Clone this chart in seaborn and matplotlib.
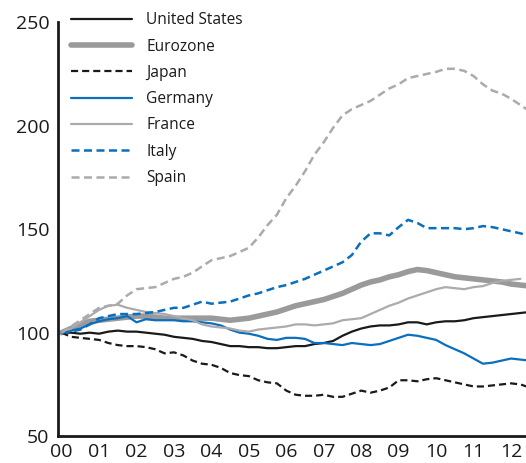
import numpy as np
import pandas as pd
import matplotlib
matplotlib.use("Agg")
import matplotlib.pyplot as plt
import seaborn as sns
from matplotlib.lines import Line2D

# quarterly index, 2000 = 100
quarters = np.arange(0, 12.51, 0.25)

united_states = [100, 100, 99.5, 100, 99.5, 100.5, 101, 100.5, 100.5, 100, 99.5, 99, 98, 97.5, 97, 96,
                 95.5, 94.5, 93.5, 93.5, 93, 93, 92.5, 92.5, 93, 93.5, 93.5, 94.5, 95, 96, 98.5, 100.5,
                 102, 103, 103.5, 103.5, 104, 105, 105, 104, 105, 105.5, 105.5, 106, 107, 107.5, 108,
                 108.5, 109, 109.5, 110]
eurozone = [100, 102, 104, 105.5, 106, 106.5, 107, 107.5, 108, 108, 107.5, 107, 107, 107, 107, 107,
            107, 106.5, 106, 106.5, 107, 108, 109, 110, 111.5, 113, 114, 115, 116, 117.5, 119, 121,
            123, 124.5, 125.5, 127, 128, 129.5, 130.5, 130, 129, 128, 127, 126.5, 126, 125.5, 125,
            124.5, 123.5, 123, 122.5]
japan = [100, 98, 97.5, 97, 96.5, 95, 94, 93.5, 93.5, 93, 92, 90, 90.5, 89, 86.5, 85,
         84.5, 83, 80.5, 79.5, 79, 77, 76, 75.5, 72, 70, 69.5, 69.5, 70, 69, 69, 70.5,
         72, 71, 72, 73.5, 77, 77, 76.5, 77.5, 78, 77, 76, 75, 74, 74, 74.5, 75, 75.5, 75, 73.5]
germany = [100, 101, 102, 104, 105.5, 106.5, 107, 108, 105, 106.5, 106, 106, 106, 105.5, 105.5, 105,
           104.5, 103.5, 101.5, 100, 99.5, 98.5, 97, 96.5, 97.5, 97.5, 97, 95, 95, 94.5, 94, 95,
           94.5, 94, 94.5, 96, 97.5, 99, 98.5, 97.5, 96.5, 94, 92, 90, 87.5, 85, 85.5, 86.5,
           87.5, 87, 86.5]
france = [100, 102, 105, 108, 111, 113, 113.5, 112, 111, 110, 109.5, 109, 108, 107, 106, 104,
          103, 102.5, 102, 101, 100.5, 101.5, 102, 102.5, 103, 104, 104, 103.5, 104, 104.5, 106, 106.5,
          107, 109, 111, 113, 114.5, 116.5, 118, 119.5, 121, 122, 121.5, 121, 122, 122.5, 124,
          125, 125.5, 126, np.nan]
italy = [100, 100.5, 101.5, 104, 107, 108, 109, 109, 109, 109.5, 110, 111, 112, 112, 113.5, 115,
         114, 114.5, 115, 116.5, 118, 119, 120.5, 122, 123, 124.5, 126, 128, 130, 132, 134, 137.5,
         144, 148, 148, 147, 151, 154.5, 153, 150.5, 150.5, 150.5, 150.5, 150, 150.5, 151.5, 151,
         150, 149, 148, 146.5]
spain = [100, 103, 106, 109, 112, 113, 114, 118, 121, 121.5, 122, 124, 126, 127, 129, 132,
         135, 136, 137, 139, 141, 146, 152, 157, 165, 171, 178, 186, 192, 199, 205, 208,
         210, 212, 215, 218, 220, 223, 224, 225, 226, 227.5, 227.5, 226.5, 224, 220, 217, 215.5,
         213, 210, 207]

year_labels = ["00", "01", "02", "03", "04", "05", "06", "07", "08", "09", "10", "11", "12"]

series = [
    ("United States", united_states, "#1a1a1a", "-", 1.6),
    ("Eurozone", eurozone, "#9a9a9c", "-", 4.0),
    ("Japan", japan, "#1a1a1a", "--", 1.6),
    ("Germany", germany, "#0a6fbd", "-", 1.6),
    ("France", france, "#ababad", "-", 1.6),
    ("Italy", italy, "#0a6fbd", "--", 1.8),
    ("Spain", spain, "#ababad", "--", 1.8),
]

sns.set_style("white")
plt.rcParams["font.family"] = ["Open Sans", "DejaVu Sans"]

fig = plt.figure(figsize=(5.26, 4.63), dpi=100)
ax = fig.add_axes([0.110, 0.058, 0.89, 0.894])

handles = []
for name, vals, color, ls, lw in series:
    df = pd.DataFrame({"t": quarters, "v": vals})
    sns.lineplot(data=df, x="t", y="v", ax=ax, color=color, linewidth=lw)
    line = ax.lines[-1]
    line.set_linestyle(ls)
    if ls == "--":
        line.set_dashes((3.2, 1.8))
    h = Line2D([], [], color=color, linewidth=lw, linestyle=ls)
    if ls == "--":
        h.set_dashes((3.2, 1.8))
    handles.append(h)

ax.set_xlim(-0.1, 12.4)
ax.set_ylim(50, 250)
ax.set_yticks([50, 100, 150, 200, 250])
ax.set_xticks(range(13))
ax.set_xticklabels(year_labels)
ax.set_xlabel("")
ax.set_ylabel("")
ax.tick_params(axis="both", length=0, labelsize=14, colors="#1a1a1a")
ax.tick_params(axis="y", pad=6)
ax.tick_params(axis="x", pad=5)
sns.despine(ax=ax, top=True, right=True)
for s in ["left", "bottom"]:
    ax.spines[s].set_linewidth(2.0)
    ax.spines[s].set_color("#1a1a1a")

leg = fig.legend(handles, [s[0] for s in series], loc="upper left",
                 bbox_to_anchor=(0.121, 0.99), frameon=False, fontsize=11.2,
                 handlelength=3.9, handletextpad=0.9, labelspacing=0.66, borderpad=0)
for t in leg.get_texts():
    t.set_color("#1a1a1a")

fig.savefig("out.png", dpi=100)
